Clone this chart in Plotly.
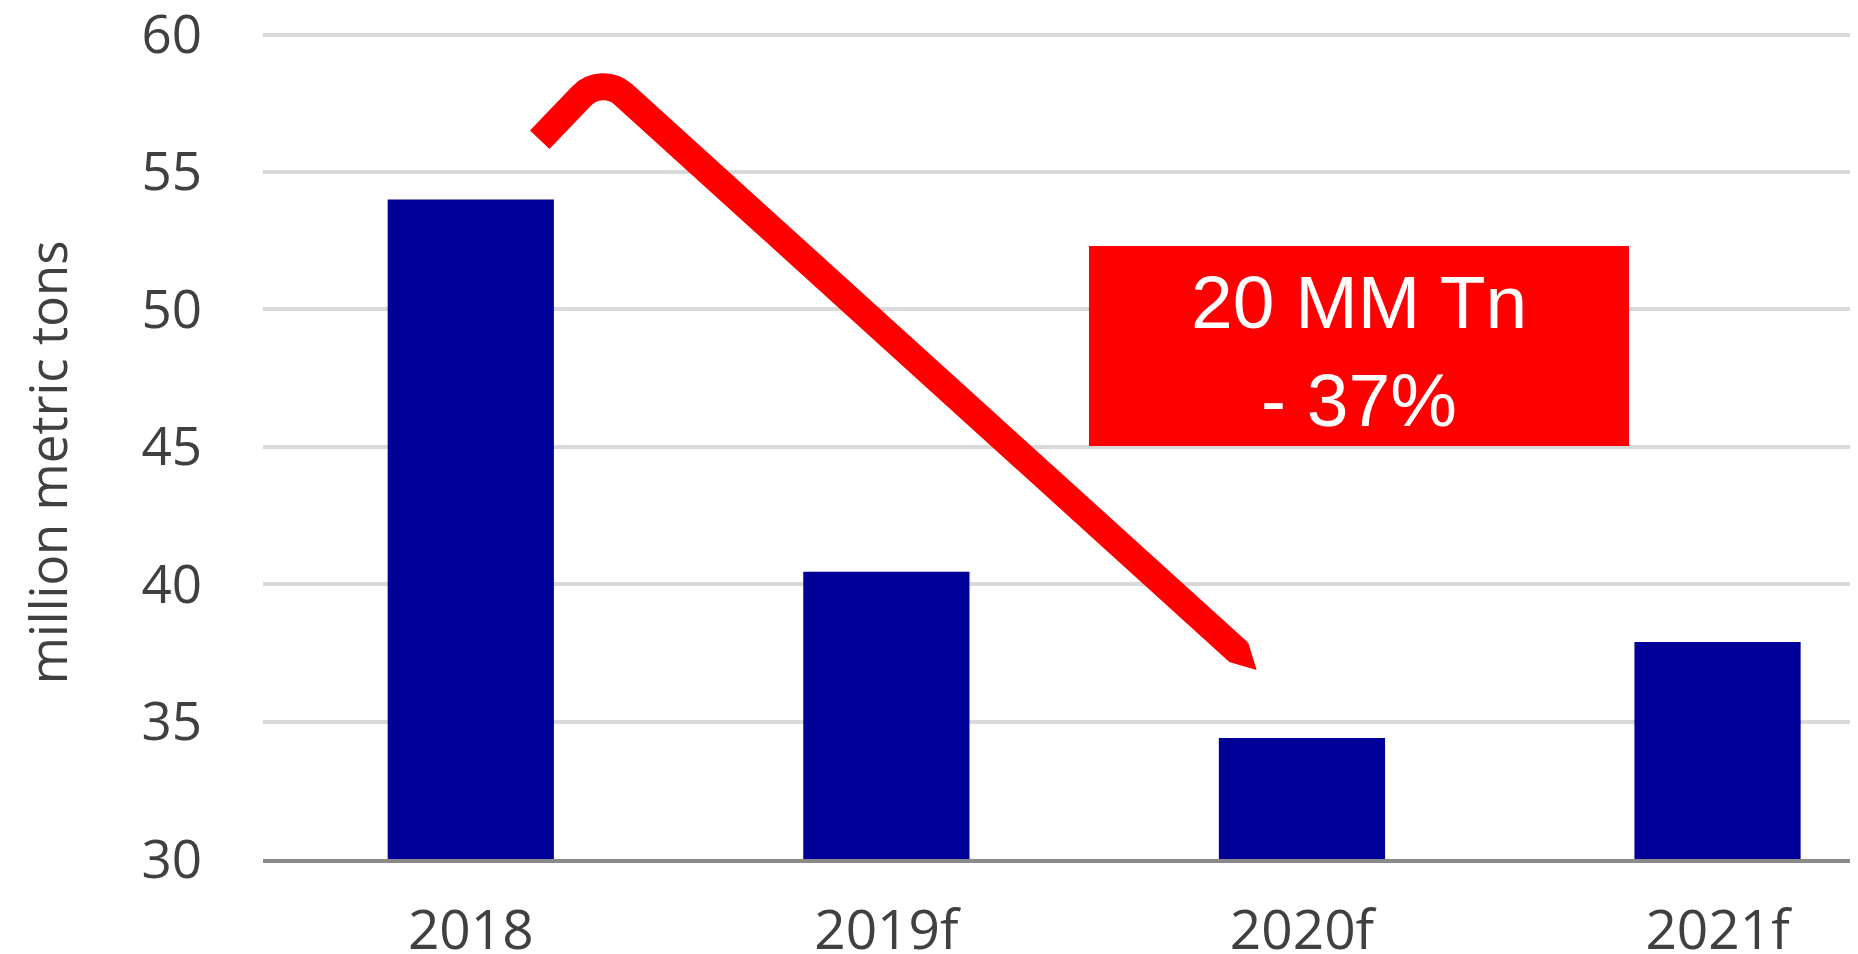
import plotly.graph_objects as go

# data
years = ["2018", "2019f", "2020f", "2021f"]
tons = [54.0, 40.45, 34.4, 37.9]
y_ticks = [30, 35, 40, 45, 50, 55, 60]

box_lines = ["20 MM Tn", "- 37%"]

x_rng = [-0.5, 3.338]
y_rng = [30, 60.2]


def paper(xv, yv):
    return ((xv - x_rng[0]) / (x_rng[1] - x_rng[0]),
            (yv - y_rng[0]) / (y_rng[1] - y_rng[0]))


def path_of(pts, close=False):
    s = ""
    for cmd, xv, yv in pts:
        px, py = paper(xv, yv)
        s += ("%s %.5f %.5f " % (cmd, px, py)) if cmd else ("%.5f %.5f " % (px, py))
    return s.strip() + (" Z" if close else "")


fig = go.Figure()
fig.add_trace(go.Bar(x=list(range(len(years))), y=tons, width=0.4,
                     marker=dict(color="#000099", line=dict(width=0)),
                     hoverinfo="skip"))

# arrow (decoration) -- start, rounded corner, end in axis units
arrow = [("M", 0.1658, 56.170), ("L", 0.2656, 57.745),
         ("C", 0.2924, 58.181), ("", 0.3376, 58.218), ("", 0.3669, 57.821),
         ("L", 1.8484, 37.515)]
fig.add_shape(type="path", path=path_of(arrow), xref="paper", yref="paper",
              line=dict(color="#ff0000", width=27))
tip = [("M", 1.8708, 37.872), ("L", 1.8910, 36.879), ("L", 1.8268, 37.159),
       ("L", 1.8450, 37.600)]
fig.add_shape(type="path", path=path_of(tip, True), xref="paper", yref="paper",
              fillcolor="#ff0000", line=dict(width=0))

# red label box
bx0, by0 = paper(1.4875, 45.03)
bx1, by1 = paper(2.787, 52.3)
fig.add_shape(type="rect", xref="paper", yref="paper", x0=bx0, x1=bx1, y0=by0, y1=by1,
              fillcolor="#ff0000", line=dict(width=0))
cx = (bx0 + bx1) / 2
for txt, yv in zip(box_lines, [50.27, 46.69]):
    fig.add_annotation(x=cx, y=paper(0, yv)[1], xref="paper", yref="paper",
                       text=txt, showarrow=False, xanchor="center", yanchor="middle",
                       font=dict(family="Liberation Sans, Arial", size=75, color="white"))

# y axis title
fig.add_annotation(x=-0.1354, y=0.478, xref="paper", yref="paper",
                   text="million metric tons", textangle=-90, showarrow=False,
                   xanchor="center", yanchor="middle",
                   font=dict(family="Open Sans", size=51, color="#404040"))

# page body keeps an 8px margin, so the figure is 8px smaller than the window
fig.update_layout(
    width=1850, height=946,
    margin=dict(l=255, r=0, t=21, b=95),
    plot_bgcolor="white", paper_bgcolor="white",
    showlegend=False,
    font=dict(family="Open Sans", color="#404040"),
    xaxis=dict(range=x_rng, tickmode="array", tickvals=list(range(len(years))),
               ticktext=years, showgrid=False, showline=True, linecolor="#8a8a8a",
               linewidth=4, tickfont=dict(size=55, color="#404040"),
               ticklabelstandoff=20, ticklabeloverflow="allow",
               zeroline=False, automargin=False),
    yaxis=dict(range=y_rng, tickvals=y_ticks, showgrid=True, gridcolor="#d9d9d9",
               gridwidth=4, zeroline=False, showline=False, automargin=False,
               tickfont=dict(size=53, color="#404040"), ticklabelstandoff=60,
               ticklabeloverflow="allow"),
)

fig.write_html("out.html")
